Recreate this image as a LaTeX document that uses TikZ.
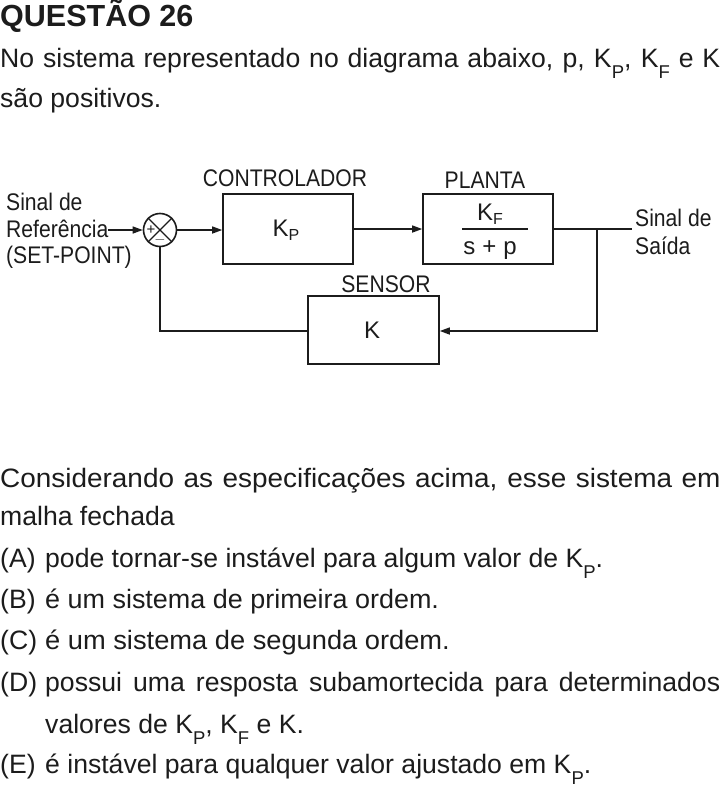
\documentclass[tikz,border=0pt]{standalone}
\usepackage{fontspec}
\setmainfont{Liberation Sans}
\newfontfamily\narrowfont{Liberation Sans}[FakeStretch=0.88]
\usetikzlibrary{arrows.meta}
\definecolor{ink}{RGB}{28,28,28}
\newcommand{\bodyfs}{\fontsize{26.6}{30}\selectfont}
\newcommand{\tsub}[1]{\raisebox{-11.5pt}{\fontsize{18.5}{18.5}\selectfont #1}}
\newcommand{\dsub}[1]{\raisebox{-4pt}{\fontsize{16}{16}\selectfont #1}}
\newcommand{\dfs}{\narrowfont\fontsize{24}{26}\selectfont}
\newcommand{\kfs}{\fontsize{24}{26}\selectfont}
\tikzset{
  txt/.style={anchor=base west, inner sep=0pt, text=ink, font=\bodyfs},
  dlab/.style={anchor=base, inner sep=0pt, text=ink, font=\dfs},
  klab/.style={anchor=base, inner sep=0pt, text=ink, font=\kfs},
  blk/.style={draw=ink, line width=1.6pt, minimum width=130pt, minimum height=70pt, inner sep=0pt},
  conn/.style={draw=ink, line width=1.4pt},
  arr/.style={conn, -{Triangle[length=10pt,width=7pt]}}
}
\begin{document}
\begin{tikzpicture}[x=1pt,y=-1pt]
\path[use as bounding box, fill=white] (0,0) rectangle (723,787);
% header
\node[txt, font=\bfseries\fontsize{30.5}{33}\selectfont] (hdr) at (0,27) {QUESTÃO 26};
\node[txt] (l1) at (0,67) {\makebox[720pt][s]{No sistema representado no diagrama abaixo, p, K\tsub{P}, K\tsub{F} e K}};
\node[txt] (l2) at (0,107) {são positivos.};
% diagram
\node[circle, draw=ink, line width=1.6pt, minimum size=33pt, inner sep=0pt] (sum) at (160,230) {};
\draw[conn] (sum.north west) -- (sum.south east);
\draw[conn] (sum.north east) -- (sum.south west);
\node[inner sep=0pt, text=ink, font=\fontsize{15}{15}\selectfont] (plus) at (151,230) {+};
\node[inner sep=0pt, text=ink, font=\fontsize{15}{15}\selectfont] (minus) at (160,239.5) {$-$};
\node[blk] (ctrl) at (288,229) {};
\node[klab] (kp) at (286,236) {K\dsub{P}};
\node[blk] (plant) at (488,229) {};
\node[klab] (kf) at (490,220) {K\dsub{F}};
\draw[ink, line width=1.4pt] (462,229) coordinate (fbl) -- (528,229) coordinate (fbr);
\node[klab] (sp) at (490,254) {s\hspace{7pt}+\hspace{7pt}p};
\node[blk, minimum width=131pt, minimum height=68pt] (sens) at (373.5,330) {};
\node[klab] (kk) at (372,338) {K};
\node[dlab] (lctrl) at (285,186) {CONTROLADOR};
\node[dlab] (lplant) at (485,188) {PLANTA};
\node[dlab] (lsens) at (386,292) {SENSOR};
\node[anchor=base west, inner sep=0pt, text=ink, font=\dfs] (ref1) at (6,210) {Sinal de};
\node[anchor=base west, inner sep=0pt, text=ink, font=\dfs] (ref2) at (6,237) {Referência};
\node[anchor=base west, inner sep=0pt, text=ink, font=\dfs] (ref3) at (6,263) {(SET-POINT)};
\node[anchor=base west, inner sep=0pt, text=ink, font=\dfs] (out1) at (635,226) {Sinal de};
\node[anchor=base west, inner sep=0pt, text=ink, font=\dfs] (out2) at (635,254) {Saída};
\coordinate (inpt) at (108,230);
\coordinate (outpt) at (632,229);
\coordinate (br) at (597,229);
\coordinate (brd) at (597,331);
\coordinate (fbc) at (160,331);
\draw[arr] (inpt) -- (sum.west);
\draw[arr] (sum.east) -- (ctrl.west |- sum.east);
\draw[arr] (ctrl.east) -- (plant.west);
\draw[conn] (plant.east) -- (outpt);
\draw[arr] (br) -- (brd) -- (sens.east |- brd);
\draw[conn] (sens.west |- fbc) -- (fbc) -- (sum.south);
% question
\node[txt] (c1) at (0,487) {\scalebox{1.05}[1]{\makebox[686pt][s]{Considerando as especificações acima, esse sistema em}}};
\node[txt] (c2) at (0,525) {malha fechada};
\node[txt] (a1) at (0,567) {(A)};
\node[txt] (a2) at (45,567) {pode tornar-se instável para algum valor de K\tsub{P}.};
\node[txt] (b1) at (0,608) {(B)};
\node[txt] (b2) at (45,608) {\scalebox{1.013}[1]{é um sistema de primeira ordem.}};
\node[txt] (cc1) at (0,649) {(C)};
\node[txt] (cc2) at (45,649) {\scalebox{1.025}[1]{é um sistema de segunda ordem.}};
\node[txt] (d1) at (0,691) {(D)};
\node[txt] (d2) at (45,691) {\makebox[675pt][s]{possui uma resposta subamortecida para determinados}};
\node[txt] (d3) at (45,733) {valores de K\tsub{P}, K\tsub{F} e K.};
\node[txt] (e1) at (0,773) {(E)};
\node[txt] (e2) at (45,773) {é instável para qualquer valor ajustado em K\tsub{P}.};
\end{tikzpicture}
\end{document}
